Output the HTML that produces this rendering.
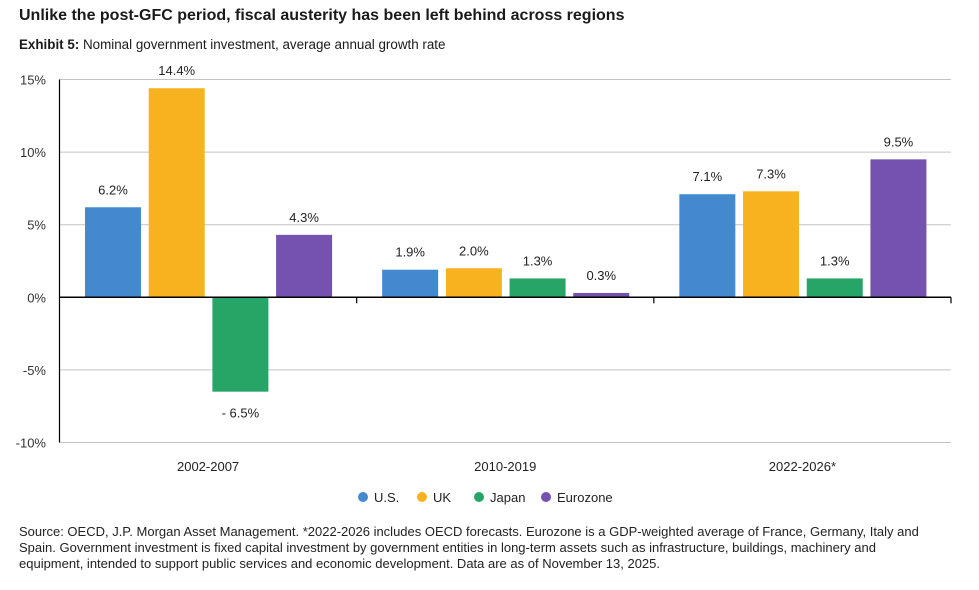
<!DOCTYPE html>
<html><head><meta charset="utf-8"><style>
body{margin:0;background:#fff;font-family:"Liberation Sans",sans-serif;}
#wrap{position:relative;width:979px;height:590px;overflow:hidden;}
.t{position:absolute;color:#1a1a1a;}
</style></head><body>
<div id="wrap">
<div class="t" style="left:19px;top:7px;font-size:16px;font-weight:bold;">Unlike the post-GFC period, fiscal austerity has been left behind across regions</div>
<div class="t" style="left:19px;top:37px;font-size:13.4px;"><b>Exhibit 5:</b> Nominal government investment, average annual growth rate</div>
<svg id="chart" width="979" height="520" style="position:absolute;left:0;top:0"></svg>
<div class="t" style="left:19px;top:524px;width:900px;font-size:13px;line-height:16px;color:#222;">Source: OECD, J.P. Morgan Asset Management. *2022-2026 includes OECD forecasts. Eurozone is a GDP-weighted average of France, Germany, Italy and Spain. Government investment is fixed capital investment by government entities in long-term assets such as infrastructure, buildings, machinery and equipment, intended to support public services and economic development. Data are as of November 13, 2025.</div>
</div>
<script>
const categories=["2002-2007","2010-2019","2022-2026*"];
const seriesNames=["U.S.","UK","Japan","Eurozone"];
const usValues=[6.2,1.9,7.1];
const ukValues=[14.4,2.0,7.3];
const japanValues=[-6.5,1.3,1.3];
const euroValues=[4.3,0.3,9.5];
const yTicks=[15,10,5,0,-5,-10];
const colors=["#4389cf","#f8b21f","#27a567","#7552b0"];
const series=[usValues,ukValues,japanValues,euroValues];
const NS="http://www.w3.org/2000/svg";
const svg=document.getElementById('chart');
const x0=59.5,x1=951,y0=297.3,ppu=14.52;
const y=v=>y0-v*ppu;
const gw=(x1-x0)/categories.length;
function mk(t,a){const e=document.createElementNS(NS,t);for(const k in a)e.setAttribute(k,a[k]);svg.appendChild(e);return e;}
yTicks.forEach(v=>{
  if(v!==0){const l=mk('line',{x1:x0,x2:x1,y1:y(v),y2:y(v),stroke:'#c4c4c4','stroke-width':1});
  
  }
  const t=mk('text',{x:46,y:y(v)+5,'text-anchor':'end','font-size':13,fill:'#333','font-family':'Liberation Sans'});
  t.textContent=v+'%';
  
  
});
categories.forEach((c,i)=>{
  const gx=x0+i*gw;
  series.forEach((s,j)=>{
    const v=s[i];const bx=gx+25.5+j*63.7;
    const r=mk('rect',{x:bx,y:Math.min(y(v),y0),width:56,height:Math.abs(y(v)-y0),fill:colors[j]});
    
    
    const ly=v>=0?y(v)-13:y(v)+26;
    const t=mk('text',{x:bx+28,y:ly,'text-anchor':'middle','font-size':13,fill:'#222','font-family':'Liberation Sans'});
    t.textContent=v<0?'- '+Math.abs(v).toFixed(1)+'%':v.toFixed(1)+'%';
    
    
  });
  const ct=mk('text',{x:gx+gw/2,y:471,'text-anchor':'middle','font-size':13,fill:'#222','font-family':'Liberation Sans'});
  ct.textContent=c;
  
  
  const tk=mk('line',{x1:gx+gw,x2:gx+gw,y1:y0,y2:y0+6,stroke:'#000','stroke-width':1.2});
  
  
});
const za=mk('line',{x1:x0,x2:x1,y1:y0,y2:y0,stroke:'#000','stroke-width':1.5});


const ya=mk('line',{x1:x0,x2:x0,y1:y(15),y2:y(-10),stroke:'#000','stroke-width':1.2});


const legX=[357,416,473,540];
seriesNames.forEach((n,j)=>{
  const c=mk('circle',{cx:legX[j]+6,cy:497,r:5,fill:colors[j]});
  
  
  const t=mk('text',{x:legX[j]+17,y:502,'font-size':13,fill:'#222','font-family':'Liberation Sans'});
  t.textContent=n;
  
  
});
</script>
</body></html>
